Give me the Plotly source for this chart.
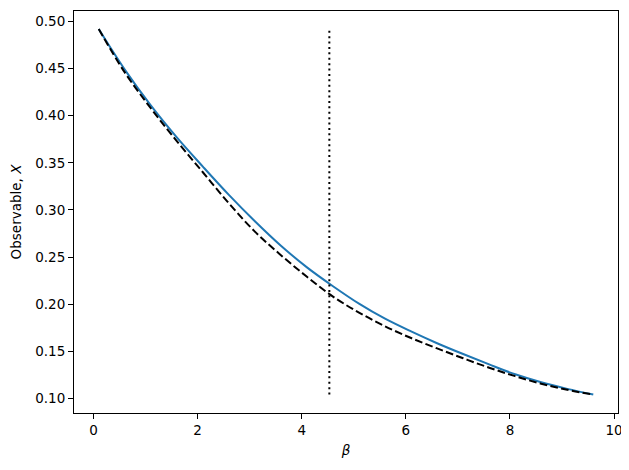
import plotly.graph_objects as go

# beta grid
beta = [0.1, 0.6, 1.1, 1.6, 2.1, 2.6, 3.1, 3.6, 4.1, 4.6,
        5.1, 5.6, 6.1, 6.6, 7.1, 7.6, 8.1, 8.6, 9.1, 9.6]
# solid blue curve
obs_exact = [0.492, 0.449, 0.411, 0.377, 0.346, 0.316, 0.288, 0.262, 0.239, 0.219,
             0.2005, 0.1845, 0.171, 0.1585, 0.147, 0.136, 0.1255, 0.117, 0.110, 0.104]
# dashed black curve
obs_approx = [0.492, 0.446, 0.408, 0.373, 0.340, 0.307, 0.277, 0.252, 0.229, 0.208,
              0.191, 0.1765, 0.164, 0.153, 0.1425, 0.1325, 0.1235, 0.1155, 0.109, 0.104]
# dotted vertical marker
marker_beta = [4.53, 4.53]
marker_obs = [0.104, 0.492]

font = dict(family="DejaVu Sans", size=13.5, color="black")

fig = go.Figure()
fig.add_trace(go.Scatter(x=beta, y=obs_exact, mode="lines", line_shape="spline",
                         line=dict(color="#1f77b4", width=2)))
fig.add_trace(go.Scatter(x=beta, y=obs_approx, mode="lines", line_shape="spline",
                         line=dict(color="black", width=2, dash="7.7px,3.3px")))
fig.add_trace(go.Scatter(x=marker_beta, y=marker_obs, mode="lines",
                         line=dict(color="black", width=2, dash="2px,3.4px")))

axis_common = dict(showgrid=False, zeroline=False, showline=True, mirror=True,
                   linecolor="black", linewidth=1.1, ticks="outside", ticklen=5,
                   tickwidth=1.1, tickcolor="black", tickfont=font)

fig.update_xaxes(range=[-0.375, 10.075], tickmode="array", tickvals=[0, 2, 4, 6, 8, 10],
                 title=dict(text="<i>β</i>", font=font, standoff=8), **axis_common)
fig.update_yaxes(range=[0.0844, 0.5112], tickmode="array",
                 tickvals=[0.10, 0.15, 0.20, 0.25, 0.30, 0.35, 0.40, 0.45, 0.50],
                 tickformat=".2f",
                 title=dict(text="Observable, <i>X</i>", font=font, standoff=10), **axis_common)

# page body adds an 8px offset, so the figure is a little smaller than the window
fig.update_layout(width=621, height=462, showlegend=False,
                  plot_bgcolor="white", paper_bgcolor="white",
                  margin=dict(l=66, r=11, t=3, b=57), font=font)

fig.write_html("out.html")
